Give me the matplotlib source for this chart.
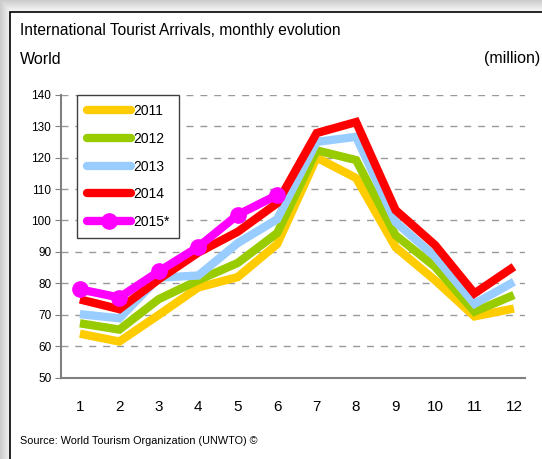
import matplotlib
matplotlib.use("Agg")
import matplotlib.pyplot as plt
import numpy as np
from matplotlib.patches import Rectangle
from matplotlib import font_manager

months = list(range(1, 13))
years = ["2011", "2012", "2013", "2014", "2015*"]

arr_2011 = [64, 61.5, 70, 78.7, 82, 92.5, 120, 113.5, 91.5, 81, 69.5, 72]
arr_2012 = [67.3, 65.3, 75, 81, 86.5, 96, 122.3, 119.2, 95.3, 85.3, 71, 76.3]
arr_2013 = [70.2, 68.9, 81.8, 82.5, 92.8, 100.4, 125, 126.6, 99.5, 88.5, 73.5, 80.5]
arr_2014 = [74.9, 71.8, 81.3, 89.8, 96.4, 105.5, 127.8, 131.3, 103.3, 92.2, 76.8, 85.3]
arr_2015 = [78.1, 75.5, 83.8, 91.6, 101.8, 108.1]

colors = ["#FFCC00", "#99CC00", "#99CCFF", "#FF0000", "#FF00FF"]

names = [f.name for f in font_manager.fontManager.ttflist]
narrow = "Liberation Sans Narrow" if "Liberation Sans Narrow" in names else "Liberation Sans"
plt.rcParams["font.family"] = [narrow, "DejaVu Sans"]

fig = plt.figure(figsize=(5.42, 4.59), dpi=100)

# light grey shadow behind the panel, then the white framed panel
bg = fig.add_axes([0, 0, 1, 1], zorder=-10)
bg.set_xlim(0, 542)
bg.set_ylim(459, 0)
bg.axis("off")
grad = np.linspace(0.80, 0.97, 12)
for i, g in enumerate(grad):
    bg.add_patch(Rectangle((i, i), 542, 459, facecolor=(g, g, g), edgecolor="none"))
bg.add_patch(Rectangle((10, 12), 540, 450, facecolor="white", edgecolor="black", linewidth=1.2))

ax = fig.add_axes([0.1125, 0.1771, 0.8561, 0.6166])
series = [arr_2011, arr_2012, arr_2013, arr_2014]
for vals, col, lab in zip(series, colors[:4], years[:4]):
    ax.plot(months, vals, color=col, linewidth=6, solid_joinstyle="miter",
            solid_capstyle="butt", label=lab)
ax.plot(months[:6], arr_2015, color=colors[4], linewidth=6, marker="o",
        markersize=11, label=years[4])

ax.set_xlim(0.52, 12.28)
ax.set_ylim(50, 140)
ax.set_yticks(range(50, 141, 10))
ax.set_xticks(months)
ax.tick_params(axis="y", labelsize=8.5, length=4, color="#808080", pad=3)
ax.tick_params(axis="x", labelsize=11, length=0, pad=16)
for y in range(60, 141, 10):
    ax.axhline(y, color="#999999", linewidth=1, dashes=(5, 5), zorder=0)
for s in ["top", "right"]:
    ax.spines[s].set_visible(False)
ax.spines["left"].set_color("#808080")
ax.spines["bottom"].set_color("#808080")
ax.spines["left"].set_linewidth(1.5)
ax.spines["bottom"].set_linewidth(1.5)

leg = ax.legend(loc="upper left", bbox_to_anchor=(0.02, 1.025), fontsize=10,
                handlelength=3.2, handletextpad=0.1, labelspacing=0.98,
                borderpad=0.7, fancybox=False, framealpha=1)
leg.get_frame().set_edgecolor("#404040")
leg.get_frame().set_linewidth(1)
for h in leg.get_lines():
    h.set_solid_capstyle("round")

fig.text(20 / 542, 1 - 31 / 459, "International Tourist Arrivals, monthly evolution",
         fontsize=11.2, va="center", ha="left")
fig.text(20 / 542, 1 - 59 / 459, "World", fontsize=11.5, va="center", ha="left")
fig.text(540 / 542, 1 - 59 / 459, "(million)", fontsize=11.5, va="center", ha="right")
fig.text(20 / 542, 1 - 441 / 459, "Source: World Tourism Organization (UNWTO) \u00a9",
         fontsize=7.8, va="center", ha="left")

fig.savefig("out.png", dpi=100)
